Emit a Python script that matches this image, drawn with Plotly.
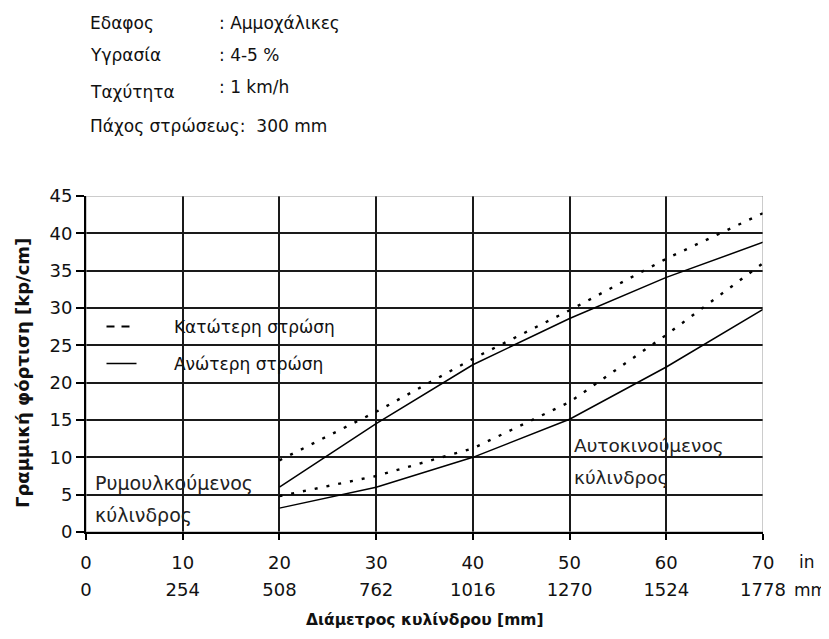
import plotly.graph_objects as go

# ---- data ----
x_in = [20, 30, 40, 50, 60, 70]
pair_a_lower_layer = [9.6, 16.1, 23.2, 29.7, 36.6, 42.7]   # dashed
pair_a_upper_layer = [6.0, 14.5, 22.4, 28.6, 34.1, 38.8]   # solid
pair_b_lower_layer = [4.8, 7.5, 11.2, 17.4, 26.4, 36.0]    # dashed
pair_b_upper_layer = [3.2, 6.0, 10.0, 15.1, 22.1, 29.8]    # solid

tick_in = [0, 10, 20, 30, 40, 50, 60, 70]
tick_mm = [0, 254, 508, 762, 1016, 1270, 1524, 1778]
y_ticks = [0, 5, 10, 15, 20, 25, 30, 35, 40, 45]

legend_names = ["Κατώτερη στρώση", "Ανώτερη στρώση"]
header_left = ["Εδαφος", "Υγρασία", "Ταχύτητα"]
header_right = [": Αμμοχάλικες", ": 4-5 %", ": 1 km/h"]
header_last = "Πάχος στρώσεως:  300 mm"
label_towed = ["Ρυμουλκούμενος", "κύλινδρος"]
label_self = ["Αυτοκινούμενος", "κύλινδρος"]
x_title = "Διάμετρος κυλίνδρου [mm]"
y_title = "Γραμμική φόρτιση [kp/cm]"

FONT = "DejaVu Sans, sans-serif"
DOT = "3px,9px"

# page has an 8px body margin: design in reference pixel coordinates, then shift
OFF = 8
W, H = 829 - OFF, 639 - OFF
PX0, PX1, PY0, PY1 = 86, 763, 196, 532     # plot area in reference pixels
L, T = PX0 - OFF, PY0 - OFF
R, B = W - (PX1 - OFF), H - (PY1 - OFF)
pw, ph = PX1 - PX0, PY1 - PY0


def px(x):
    return (x - PX0) / pw


def py(y):
    return (PY1 - y) / ph


fig = go.Figure()
for ys, dash in [(pair_a_lower_layer, DOT), (pair_a_upper_layer, "solid"),
                 (pair_b_lower_layer, DOT), (pair_b_upper_layer, "solid")]:
    fig.add_trace(go.Scatter(x=x_in, y=ys, mode="lines", showlegend=False,
                             line=dict(color="black", width=1.5 if dash == "solid" else 2.4, dash=dash)))

pad = "\u00a0" * 6
fig.add_trace(go.Scatter(x=[None], y=[None], mode="lines", name=pad + legend_names[0], xaxis="x2",
                         line=dict(color="black", width=2, dash="8px,7px"), legend="legend"))
fig.add_trace(go.Scatter(x=[None], y=[None], mode="lines", name=pad + legend_names[1], xaxis="x2",
                         line=dict(color="black", width=1.5), legend="legend2"))

leg_common = dict(bgcolor="rgba(0,0,0,0)", font=dict(family=FONT, size=17, color="#111"),
                  xanchor="left", yanchor="middle", itemwidth=30)
fig.update_layout(
    legend=dict(x=px(101.5), y=py(327), **leg_common),
    legend2=dict(x=px(101.5), y=py(364), **leg_common),
)

axis_font = dict(family=FONT, size=18, color="#111")
fig.update_layout(
    xaxis=dict(range=[0, 70], tickvals=tick_in, ticktext=[str(v) for v in tick_in],
               showgrid=True, gridcolor="#1a1a1a", gridwidth=2,
               showline=True, linecolor="black", linewidth=2,
               ticks="outside", ticklen=6, tickcolor="black", tickwidth=2,
               tickfont=axis_font, zeroline=False, ticklabelstandoff=7),
    xaxis2=dict(range=[0, 70], overlaying="x", side="bottom", anchor="y",
                tickvals=tick_in, ticktext=[str(v) for v in tick_mm],
                showgrid=False, showline=False, ticks="", zeroline=False,
                tickfont=axis_font, ticklabelstandoff=45),
    yaxis=dict(range=[0, 45], tickvals=y_ticks,
               showgrid=True, gridcolor="#1a1a1a", gridwidth=2,
               showline=True, linecolor="black", linewidth=2,
               ticks="outside", ticklen=8, tickcolor="black", tickwidth=2,
               tickfont=axis_font, zeroline=False),
)

fig.add_shape(type="rect", xref="x", yref="y", x0=0, x1=70, y0=0, y1=45,
              line=dict(color="#999999", width=1), layer="above")

annotations = []


def add_text(text, x, y, size, color="#111", xanchor="left", **kw):
    annotations.append(dict(text=text, x=px(x), y=py(y), xref="paper", yref="paper",
                            xanchor=xanchor, yanchor="middle", showarrow=False,
                            font=dict(family=FONT, size=size, color=color), **kw))


hy = [23, 55, 92]
hy_r = [23, 55, 87]
for i, (l, r) in enumerate(zip(header_left, header_right)):
    add_text(l, 88, hy[i], 17)
    add_text(r, 217, hy_r[i], 17)
add_text(header_last, 88, 126, 17)

add_text(label_towed[0], 93, 483, 19, "#222")
add_text(label_towed[1], 93, 515, 19, "#222")
add_text(label_self[0], 572, 445, 18.5, "#222")
add_text(label_self[1], 572, 477, 18.5, "#222")

add_text("in", 797, 562, 17)
add_text("mm", 792, 590, 17)

add_text("<b>" + x_title + "</b>", 425, 620, 15.5, xanchor="center")
add_text("<b>" + y_title + "</b>", 22, 373, 18, xanchor="center", textangle=-90)

fig.update_layout(width=W, height=H, margin=dict(l=L, r=R, t=T, b=B, autoexpand=False),
                  paper_bgcolor="white", plot_bgcolor="white",
                  annotations=annotations, font=dict(family=FONT, color="black"))

fig.write_html("out.html")
